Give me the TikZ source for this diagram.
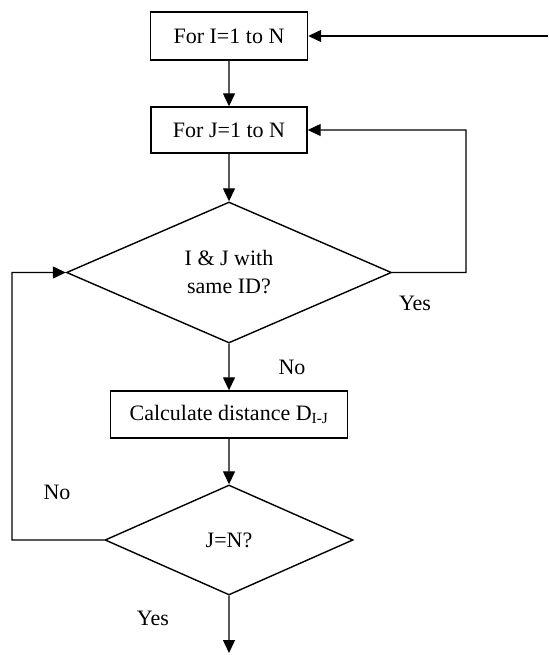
\documentclass[tikz,border=0pt]{standalone}
\usepackage{fontspec}
\setmainfont{Liberation Serif}
\usetikzlibrary{shapes.geometric,arrows.meta}

\begin{document}
\begin{tikzpicture}[scale=0.35146]
\tikzstyle{every node}+=[inner sep=0pt, font=\fontsize{22}{26}\selectfont]
\tikzstyle{stepbox}=[draw, line width=1.4pt]
\tikzstyle{test}=[draw, diamond, line width=1.4pt, align=center]
\tikzstyle{flow}=[line width=1.3pt, -{Triangle[length=13pt,width=12pt]}]
\useasboundingbox (0,0) rectangle (54.8,-65.5);
\node [stepbox, minimum width=157pt, minimum height=48pt] (fori) at (22.9,-3.6) {For I=1 to N};
\node [stepbox, minimum width=156pt, minimum height=46pt] (forj) at (22.9,-13.0) {For J=1 to N};
\node [test, aspect=2.3, minimum width=325pt, minimum height=141pt] (same) at (22.9,-27.25) {I \& J with\\[2pt]same ID?};
\node [stepbox, minimum width=237pt, minimum height=47pt] (dist) at (22.9,-41.45) {Calculate distance D\textsubscript{I-J}};
\node [test, aspect=2.25, minimum width=248pt, minimum height=110pt] (last) at (22.9,-54.0) {J=N?};
\coordinate (back) at (54.8,-3.6);
\coordinate (out) at (22.9,-65.3);
\draw [flow] (back) -- (fori);
\draw [flow] (fori) -- (forj);
\draw [flow] (forj) -- (same);
\draw [flow] (same.east) -| (46.6,-13.0) -- (forj.east);
\draw [flow] (same) -- (dist);
\draw [flow] (dist) -- (last);
\draw [flow] (last.west) -| (1.2,-27.25) -- (same.west);
\draw [flow] (last) -- (out);
\node (yes1) at (41.5,-30.3) {Yes};
\node (no1) at (29.2,-36.7) {No};
\node (no2) at (5.7,-49.2) {No};
\node (yes2) at (15.3,-61.8) {Yes};
\end{tikzpicture}
\end{document}
